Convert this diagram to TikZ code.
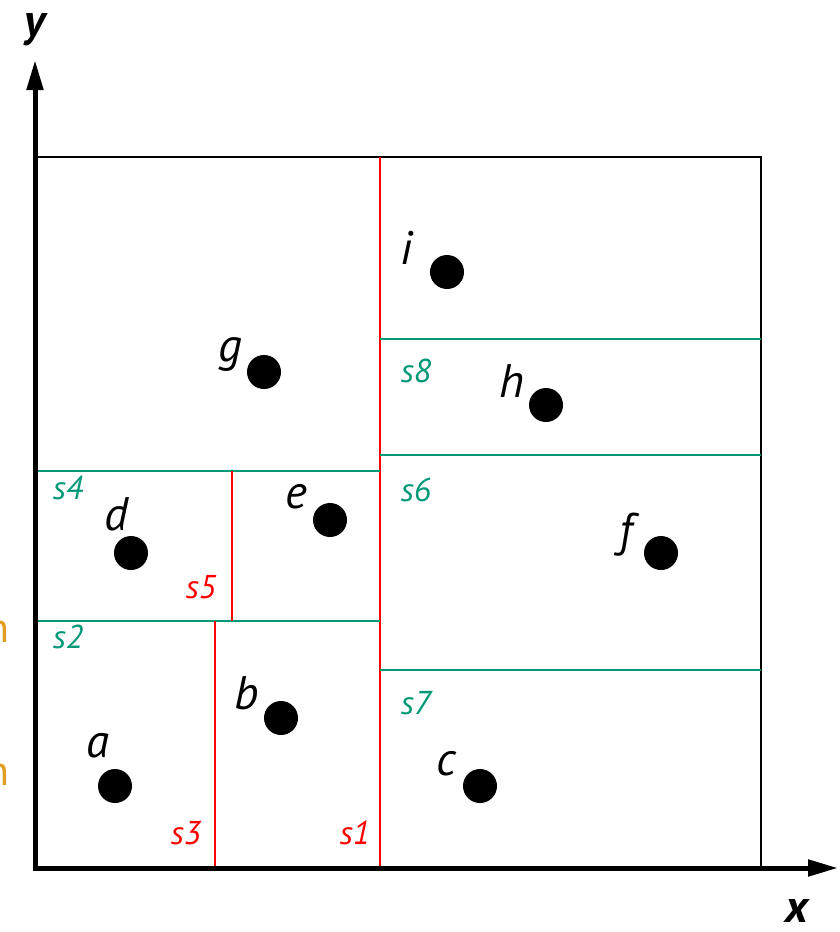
\documentclass[tikz,border=0pt]{standalone}
\usepackage{fontspec}
\setmainfont{PT Sans}
\usetikzlibrary{positioning,arrows.meta}
\definecolor{splitred}{HTML}{FF0000}
\definecolor{splitgreen}{HTML}{009977}
\definecolor{cutorange}{HTML}{E29E24}
\tikzset{
  every node/.style={inner sep=0pt},
  point/.style={circle, fill=black, minimum size=34pt},
  ptlabel/.style={font=\fontsize{47}{49}\selectfont\itshape},
  vsplit/.style={draw=splitred, line width=1.8pt},
  hsplit/.style={draw=splitgreen, line width=1.8pt},
  vlabel/.style={text=splitred, font=\fontsize{33}{35}\selectfont\itshape},
  hlabel/.style={text=splitgreen, font=\fontsize{33}{35}\selectfont\itshape},
  axis/.style={line width=5pt, -{Triangle[length=30pt,width=16pt]}},
  axlabel/.style={font=\fontsize{46}{48}\selectfont\bfseries\itshape},
}

\begin{document}
\begin{tikzpicture}[x=1pt,y=-1pt]
  \useasboundingbox (0,0) rectangle (840,932);
  \coordinate (origin) at (35,868);
  \coordinate (xend) at (838,868);
  \coordinate (yend) at (35,60);
  \draw[line width=1.5pt] (35,157) rectangle (761,868);
  \draw[vsplit] (380,157) -- (380,868);
  \draw[hsplit] (35,621) -- (380,621);
  \draw[vsplit] (215,621) -- (215,868);
  \draw[hsplit] (35,471) -- (380,471);
  \draw[vsplit] (232,471) -- (232,621);
  \draw[hsplit] (380,455) -- (761,455);
  \draw[hsplit] (380,670) -- (761,670);
  \draw[hsplit] (380,339) -- (761,339);
  \draw[axis] ([xshift=-2.5pt]origin) -- (xend);
  \draw[axis] ([yshift=2.5pt]origin) -- (yend);
  \node[axlabel] (ylab) at (35,30) {y};
  \node[axlabel] (xlab) at (797,911) {x};
  \node[vlabel] (s1) at (355,833) {s1};
  \node[vlabel] (s3) at (186,833) {s3};
  \node[vlabel] (s5) at (201,587) {s5};
  \node[hlabel] (s2) at (68,637) {s2};
  \node[hlabel] (s4) at (68,488) {s4};
  \node[hlabel] (s6) at (416,490) {s6};
  \node[hlabel] (s7) at (416,703) {s7};
  \node[hlabel] (s8) at (416,371) {s8};
  \node[point] (pa) at (115,786) {};
  \node[point] (pb) at (281,718) {};
  \node[point] (pc) at (480,786) {};
  \node[point] (pd) at (131,553) {};
  \node[point] (pe) at (330,520) {};
  \node[point] (pf) at (661,553) {};
  \node[point] (pg) at (264,372) {};
  \node[point] (ph) at (546,405) {};
  \node[point] (pi) at (447,272) {};
  \node[ptlabel] (la) at (98,746) {a};
  \node[ptlabel] (lb) at (247,693) {b};
  \node[ptlabel] (lc) at (446,764) {c};
  \node[ptlabel] (ld) at (116,514) {d};
  \node[ptlabel] (le) at (296,497) {e};
  \node[ptlabel] (lf) at (626,535) {f};
  \node[ptlabel] (lg) at (230,355) {g};
  \node[ptlabel] (lh) at (512,381) {h};
  \node[ptlabel] (li) at (407,248) {i};
  \node[text=cutorange, font=\fontsize{42}{44}\selectfont, anchor=east] (cut1) at (10,632) {n};
  \node[text=cutorange, font=\fontsize{42}{44}\selectfont, anchor=east] (cut2) at (10,775) {n};
\end{tikzpicture}
\end{document}
